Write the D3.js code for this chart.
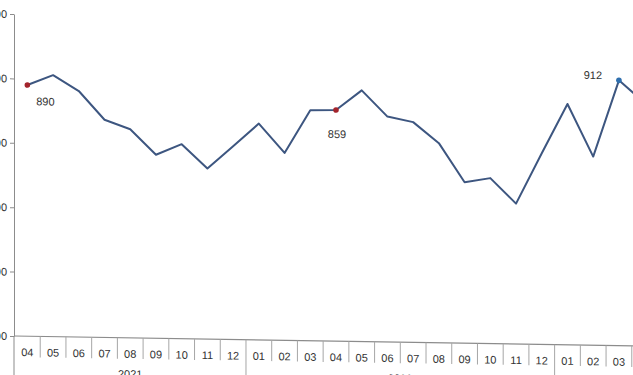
<!DOCTYPE html>
<html>
<head>
<meta charset="utf-8">
<script src="https://cdn.jsdelivr.net/npm/d3@7"></script>
<style>
  body { margin: 0; background: #fff; }
  svg { display: block; font-family: "Liberation Sans", Arial, sans-serif; }
  .tick text { font-size: 11px; fill: #333; }
</style>
</head>
<body>
<div id="chart"></div>
<script>
// month labels and years (the last point, 04/2023, falls outside the visible area)
var months = ["04","05","06","07","08","09","10","11","12",
  "01","02","03","04","05","06","07","08","09","10","11","12",
  "01","02","03","04"]
var years = ["2021","2021","2021","2021","2021","2021","2021","2021","2021",
  "2022","2022","2022","2022","2022","2022","2022","2022","2022","2022","2022","2022",
  "2023","2023","2023","2023"]
var values = [890, 906, 882, 838, 824, 785, 802, 765, 800,
  836, 791, 858, 859, 890, 850, 842, 810, 750, 757, 718, 797,
  874, 793, 912, 878]
var yTicks = [500, 600, 700, 800, 900, 1000]
// points that carry a marker and a value label
var labelled = [0, 12, 23]
var markerColor = {0: "#a3242c", 12: "#a3242c", 23: "#2f6fae"}

const W = 633, H = 375
const plotLeft = 14, plotTop = 14, axisY = 336, step = 25.72
const skew = 0.016   // the picture is slightly tilted

var data = values.map(function(v, i) {
  return {key: years[i] + "-" + months[i] + "-" + i, month: months[i], year: years[i], value: v, i: i}
})

var svg = d3.select("#chart")
  .append("svg")
  .attr("width", W)
  .attr("height", H)

var g = svg.append("g")
  .attr("transform", "matrix(1," + skew + ",0,1,0," + (-plotLeft * skew) + ")")

var x = d3.scaleBand()
  .domain(data.map(d => d.key))
  .range([plotLeft + 0.5, plotLeft + 0.5 + step * data.length])
  .padding(0)

var y = d3.scaleLinear()
  .domain([500, 1000])
  .range([axisY, plotTop])

// Y axis
var yAxis = g.append("g")
  .attr("transform", "translate(" + plotLeft + ",0)")
  .call(d3.axisLeft(y).tickValues(yTicks).tickSize(4).tickSizeOuter(0).tickPadding(3))
yAxis.select(".domain").attr("stroke", "#8c8c8c")
yAxis.selectAll(".tick line").attr("stroke", "#8c8c8c")

// extend y axis line below the category labels
g.append("line")
  .attr("x1", plotLeft).attr("x2", plotLeft)
  .attr("y1", axisY).attr("y2", H + 10)
  .attr("stroke", "#8c8c8c")

// X axis line
g.append("line")
  .attr("x1", plotLeft).attr("x2", plotLeft + step * data.length + 10)
  .attr("y1", axisY).attr("y2", axisY)
  .attr("stroke", "#8c8c8c")
  .attr("stroke-width", 1.2)

// cell separators between months
g.selectAll(".sep")
  .data(data.slice(1))
  .enter()
  .append("line")
  .attr("class", "sep")
  .attr("x1", d => x(d.key)).attr("x2", d => x(d.key))
  .attr("y1", axisY)
  .attr("y2", d => d.month == "01" ? H + 10 : axisY + 21)
  .attr("stroke", "#a6a6a6")

// month labels
g.selectAll(".mlabel")
  .data(data)
  .enter()
  .append("text")
  .attr("class", "mlabel")
  .attr("x", d => x(d.key) + x.bandwidth() / 2)
  .attr("y", axisY + 20)
  .attr("text-anchor", "middle")
  .style("font-size", "11px")
  .style("fill", "#333")
  .text(d => d.month)

// year labels, centred under their months
var groups = d3.groups(data, d => d.year)
g.selectAll(".ylabel")
  .data(groups)
  .enter()
  .append("text")
  .attr("class", "ylabel")
  .attr("x", function(d) {
    var first = d[1][0], last = d[1][d[1].length - 1]
    return (x(first.key) + x(last.key) + x.bandwidth()) / 2
  })
  .attr("y", axisY + 40)
  .attr("text-anchor", "middle")
  .style("font-size", "11px")
  .style("fill", "#333")
  .text(d => d[0])

// Line
g.append("path")
  .datum(data)
  .attr("fill", "none")
  .attr("stroke", "#3d5680")
  .attr("stroke-width", 2)
  .attr("stroke-linejoin", "round")
  .attr("d", d3.line()
    .x(d => x(d.key) + x.bandwidth() / 2)
    .y(d => y(d.value)))

// markers
var marked = data.filter(d => labelled.indexOf(d.i) >= 0)
g.selectAll(".marker")
  .data(marked)
  .enter()
  .append("circle")
  .attr("cx", d => x(d.key) + x.bandwidth() / 2)
  .attr("cy", d => y(d.value))
  .attr("r", 2.8)
  .attr("fill", d => markerColor[d.i])

// value labels
var offsets = {0: [18, 20], 12: [1, 28], 23: [-26, -1]}
g.selectAll(".vlabel")
  .data(marked)
  .enter()
  .append("text")
  .attr("x", d => x(d.key) + x.bandwidth() / 2 + offsets[d.i][0])
  .attr("y", d => y(d.value) + offsets[d.i][1])
  .attr("text-anchor", "middle")
  .style("font-size", "11px")
  .style("fill", "#333")
  .text(d => d.value)
</script>
</body>
</html>
